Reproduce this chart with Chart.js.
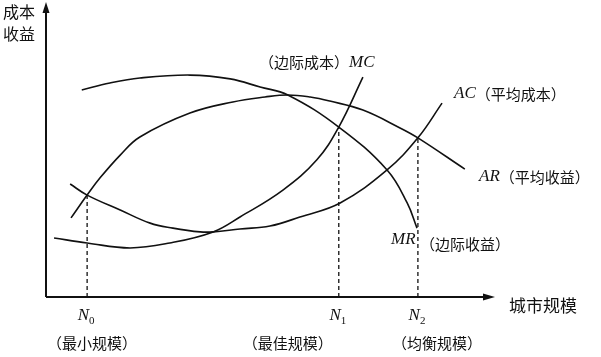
<!DOCTYPE html>
<html><head><meta charset="utf-8">
<script src="https://cdn.jsdelivr.net/npm/chart.js@4"></script>
<style>html,body{margin:0;padding:0;background:#fff;}canvas{display:block}</style>
</head><body>
<canvas id="c" width="601" height="357"></canvas>
<script>
// City size (x) and cost / revenue (y), in arbitrary units 0..100
const mrX = [8.0, 14.3, 21.0, 32.2, 41.2, 47.9, 54.1, 65.5, 76.3, 80.8, 83.0];
const mrY = [70.9, 73.3, 75.0, 76.0, 74.7, 71.9, 69.2, 58.2, 43.5, 32.2, 23.6];
const arX = [5.6, 9.2, 12.1, 16.6, 21.0, 32.2, 41.8, 49.0, 54.1, 59.1, 63.5, 70.9, 79.2, 83.2, 93.7];
const arY = [27.1, 34.9, 40.8, 48.6, 54.8, 63.0, 66.8, 68.5, 69.2, 68.5, 67.1, 64.0, 57.9, 54.5, 43.8];
const acX = [5.4, 9.2, 16.6, 23.3, 28.4, 34.5, 37.4, 43.4, 50.1, 56.8, 65.8, 76.3, 83.2, 88.6];
const acY = [38.7, 34.9, 29.8, 25.3, 23.6, 22.3, 22.3, 23.3, 24.3, 27.4, 32.2, 43.5, 54.5, 66.4];
const mcX = [1.8, 9.2, 18.8, 27.7, 37.4, 43.4, 53.0, 60.6, 65.5, 70.9];
const mcY = [20.2, 18.5, 16.8, 18.5, 22.3, 27.4, 36.6, 47.0, 58.2, 75.3];
// Characteristic city sizes N0, N1, N2 and the heights of the intersections
const nValues = [9.2, 65.5, 83.2];
const nHeights = [34.9, 58.2, 54.5];
const nSubs = ['0', '1', '2'];
const nNames = ['（最小规模）', '（最佳规模）', '（均衡规模）'];
const yTitle = ['成本', '收益'];
const xTitle = '城市规模';

const pts = (xs, ys) => xs.map((x, i) => ({x, y: ys[i]}));
const curve = (xs, ys) => ({data: pts(xs, ys), showLine: true, borderColor: '#111', borderWidth: 1.6,
  pointRadius: 0, tension: 0.4, fill: false});
const dashed = nValues.map((n, i) => ({data: [{x: n, y: 0}, {x: n, y: nHeights[i]}], showLine: true,
  borderColor: '#111', borderWidth: 1.3, borderDash: [4, 3], pointRadius: 0, tension: 0, fill: false}));

const cjk = '"Noto Sans CJK SC", sans-serif';
const ser = '"Liberation Serif", serif';

const deco = {
  id: 'deco',
  afterDraw(chart) {
    const ctx = chart.ctx, a = chart.chartArea, xs = chart.scales.x;
    ctx.save();
    ctx.strokeStyle = '#111'; ctx.fillStyle = '#111'; ctx.lineWidth = 2;
    // axes
    ctx.beginPath(); ctx.moveTo(a.left, a.bottom); ctx.lineTo(a.left, 10);
    ctx.moveTo(a.left, a.bottom); ctx.lineTo(a.right - 6, a.bottom); ctx.stroke();
    ctx.beginPath(); ctx.moveTo(a.left, 2); ctx.lineTo(a.left - 3.5, 13); ctx.lineTo(a.left + 3.5, 13); ctx.closePath(); ctx.fill();
    ctx.beginPath(); ctx.moveTo(a.right + 2, a.bottom); ctx.lineTo(a.right - 10, a.bottom - 3.5); ctx.lineTo(a.right - 10, a.bottom + 3.5); ctx.closePath(); ctx.fill();

    ctx.textBaseline = 'middle'; ctx.textAlign = 'left';
    const put = (t, x, y, f) => { ctx.font = f; ctx.fillText(t, x, y); return x + ctx.measureText(t).width; };
    put(yTitle[0], 3, 12, '16px ' + cjk);
    put(yTitle[1], 3, 34, '16px ' + cjk);
    put(xTitle, 509, 306, '17px ' + cjk);
    let e = put('（边际成本）', 259, 62, '15px ' + cjk);
    put('MC', e, 63, 'italic 17px ' + ser);
    e = put('AC', 454, 94, 'italic 17px ' + ser);
    put('（平均成本）', e, 94, '15px ' + cjk);
    e = put('AR', 479, 177, 'italic 17px ' + ser);
    put('（平均收益）', e, 177, '15px ' + cjk);
    put('MR', 391, 240, 'italic 17px ' + ser);
    put('（边际收益）', 420, 244, '15px ' + cjk);

    const nameOff = [5, -51, 19];
    nValues.forEach((n, i) => {
      const px = xs.getPixelForValue(n);
      ctx.textAlign = 'right';
      ctx.font = 'italic 17px ' + ser; ctx.fillText('N', px + 2, 316);
      ctx.textAlign = 'left';
      ctx.font = '11px ' + ser; ctx.fillText(nSubs[i], px + 2, 321);
      ctx.textAlign = 'center';
      ctx.font = '15px ' + cjk; ctx.fillText(nNames[i], px + nameOff[i], 343);
    });
    ctx.restore();
  }
};

new Chart(document.getElementById('c'), {
  type: 'scatter',
  data: {datasets: [curve(mrX, mrY), curve(arX, arY), curve(acX, acY), curve(mcX, mcY), ...dashed]},
  options: {
    responsive: false, animation: false, devicePixelRatio: 1,
    layout: {padding: {left: 46, right: 108, top: 5, bottom: 60}},
    plugins: {legend: {display: false}, tooltip: {enabled: false}},
    scales: {
      x: {type: 'linear', min: 0, max: 100, display: false},
      y: {type: 'linear', min: 0, max: 100, display: false}
    }
  },
  plugins: [deco]
});
</script>
</body></html>
